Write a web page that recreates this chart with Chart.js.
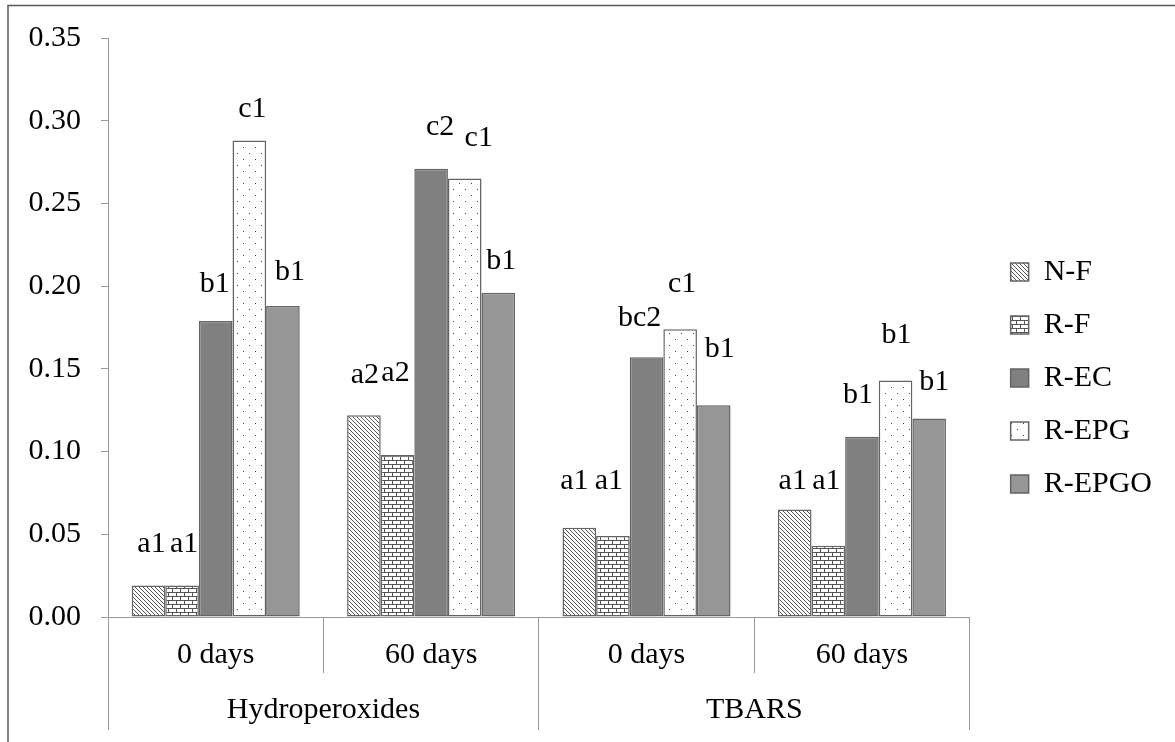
<!DOCTYPE html>
<html>
<head>
<meta charset="utf-8">
<script src="https://cdn.jsdelivr.net/npm/chart.js@4.4.0/dist/chart.umd.min.js"></script>
<style>
  html, body { margin: 0; padding: 0; background: #fff; }
  #wrap { width: 1175px; height: 742px; position: relative; }
</style>
</head>
<body>
<div id="wrap"><canvas id="chart"></canvas></div>
<script>
const days = ['0 days', '60 days', '0 days', '60 days'];
const tests = ['Hydroperoxides', 'TBARS'];
const seriesNames = ['N-F', 'R-F', 'R-EC', 'R-EPG', 'R-EPGO'];

const nF = [0.019, 0.122, 0.054, 0.065];
const rF = [0.019, 0.098, 0.049, 0.043];
const rEC = [0.179, 0.271, 0.157, 0.109];
const rEPG = [0.288, 0.265, 0.174, 0.143];
const rEPGO = [0.188, 0.196, 0.128, 0.120];

const nFLetters = ['a1', 'a2', 'a1', 'a1'];
const rFLetters = ['a1', 'a2', 'a1', 'a1'];
const rECLetters = ['b1', 'c2', 'bc2', 'b1'];
const rEPGLetters = ['c1', 'c1', 'c1', 'b1'];
const rEPGOLetters = ['b1', 'b1', 'b1', 'b1'];

const FONT = '"Liberation Serif", "Times New Roman", serif';
const AXIS = '#9a9a9a';

function makePattern(w, h, draw) {
  const c = document.createElement('canvas');
  c.width = w; c.height = h;
  const g = c.getContext('2d');
  g.fillStyle = '#fff';
  g.fillRect(0, 0, w, h);
  draw(g);
  return document.createElement('canvas').getContext('2d').createPattern(c, 'repeat');
}

// diagonal hatch "\\\"
const hatch = makePattern(4, 4, g => {
  g.strokeStyle = '#555';
  g.lineWidth = 1;
  g.beginPath();
  g.moveTo(-1, -1); g.lineTo(5, 5);
  g.moveTo(-1, 3); g.lineTo(1, 5);
  g.moveTo(3, -1); g.lineTo(5, 1);
  g.stroke();
});

// bricks
const brick = makePattern(8, 8, g => {
  g.fillStyle = '#555';
  g.fillRect(0, 0, 8, 1);
  g.fillRect(0, 4, 8, 1);
  g.fillRect(0, 0, 1, 4);
  g.fillRect(4, 4, 1, 4);
});

// sparse dots
const dots = makePattern(12, 12, g => {
  g.fillStyle = '#444';
  g.fillRect(3, 3, 1, 1);
  g.fillRect(9, 9, 1, 1);
});

// label nudges relative to top centre of each bar [dx, dy]
const labelNudge = [
  [[3, -41], [1, -40], [-5, -47], [-2, -28]],
  [[2, -41], [-2, -82], [-4, -55], [-2, -65]],
  [[-1, -37], [9, -42], [-7, -39], [-4, -42]],
  [[3, -31], [14, -40], [2, -45], [1, -45]],
  [[7, -34], [3, -32], [6, -56], [5, -36]]
];
const letters = [nFLetters, rFLetters, rECLetters, rEPGLetters, rEPGOLetters];

const barLabels = {
  id: 'barLabels',
  afterDatasetsDraw(chart) {
    const ctx = chart.ctx;
    ctx.save();
    ctx.font = '30px ' + FONT;
    ctx.fillStyle = '#000';
    ctx.textAlign = 'center';
    ctx.textBaseline = 'middle';
    chart.data.datasets.forEach((ds, di) => {
      chart.getDatasetMeta(di).data.forEach((bar, i) => {
        const [dx, dy] = labelNudge[di][i];
        ctx.fillText(letters[di][i], bar.x + dx, bar.y + dy);
      });
    });
    ctx.restore();
  }
};

const frame = {
  id: 'frame',
  beforeDraw(chart) {
    const ctx = chart.ctx;
    ctx.save();
    ctx.fillStyle = '#fff';
    ctx.fillRect(0, 0, chart.width, chart.height);
    ctx.strokeStyle = '#595959';
    ctx.lineWidth = 1.5;
    ctx.beginPath();
    ctx.moveTo(8, chart.height);
    ctx.lineTo(8, 5.5);
    ctx.lineTo(chart.width, 5.5);
    ctx.stroke();
    ctx.restore();
  }
};

const fills = [hatch, brick, '#808080', dots, '#969696'];
const values = [nF, rF, rEC, rEPG, rEPGO];

new Chart(document.getElementById('chart'), {
  type: 'bar',
  data: {
    labels: days,
    datasets: seriesNames.map((name, i) => ({
      label: name,
      data: values[i],
      backgroundColor: fills[i],
      borderColor: '#646464',
      borderWidth: 1.5,
      borderSkipped: false,
      xAxisID: 'x',
      yAxisID: 'y',
      categoryPercentage: 0.78,
      barPercentage: 1.0
    }))
  },
  options: {
    responsive: true,
    maintainAspectRatio: false,
    animation: false,
    layout: { padding: { left: 8, top: 27, right: 13, bottom: 13 } },
    plugins: {
      legend: {
        position: 'right',
        labels: {
          boxWidth: 18,
          boxHeight: 18,
          padding: 23,
          color: '#000',
          font: { family: FONT, size: 30 }
        }
      },
      tooltip: { enabled: false }
    },
    scales: {
      x: {
        type: 'category',
        labels: days,
        position: 'bottom',
        weight: 0,
        offset: true,
        grid: { display: true, drawOnChartArea: false, drawTicks: true, tickLength: 56, offset: true, color: AXIS },
        border: { display: true, color: AXIS },
        ticks: {
          padding: -26,
          color: '#000',
          maxRotation: 0,
          autoSkip: false,
          font: { family: FONT, size: 30, lineHeight: 16 / 30 }
        },
        afterFit: s => { s.height = 56; }
      },
      x2: {
        type: 'category',
        labels: tests,
        position: 'bottom',
        weight: 1,
        offset: true,
        grid: { display: true, drawOnChartArea: false, drawTicks: true, tickLength: 57, offset: true, color: AXIS },
        border: { display: false },
        ticks: {
          padding: -28,
          color: '#000',
          maxRotation: 0,
          autoSkip: false,
          font: { family: FONT, size: 30, lineHeight: 16 / 30 }
        },
        afterFit: s => { s.height = 56; }
      },
      topPad: {
        type: 'category',
        labels: days,
        position: 'top',
        display: true,
        grid: { display: false },
        border: { display: false },
        ticks: { display: false },
        afterFit: s => { s.height = 11; }
      },
      y: {
        type: 'linear',
        position: 'left',
        min: 0,
        max: 0.35,
        ticks: {
          stepSize: 0.05,
          padding: 20,
          color: '#000',
          font: { family: FONT, size: 30 },
          callback: v => v.toFixed(2)
        },
        grid: { display: true, drawOnChartArea: false, drawTicks: true, tickLength: 7, color: AXIS },
        border: { display: true, color: AXIS },
        afterFit: s => { s.width = 100; }
      },
      pad: {
        type: 'linear',
        position: 'right',
        display: true,
        grid: { display: false },
        border: { display: false },
        ticks: { display: false },
        afterFit: s => { s.width = 18; }
      }
    }
  },
  plugins: [frame, barLabels]
});
</script>
</body>
</html>
